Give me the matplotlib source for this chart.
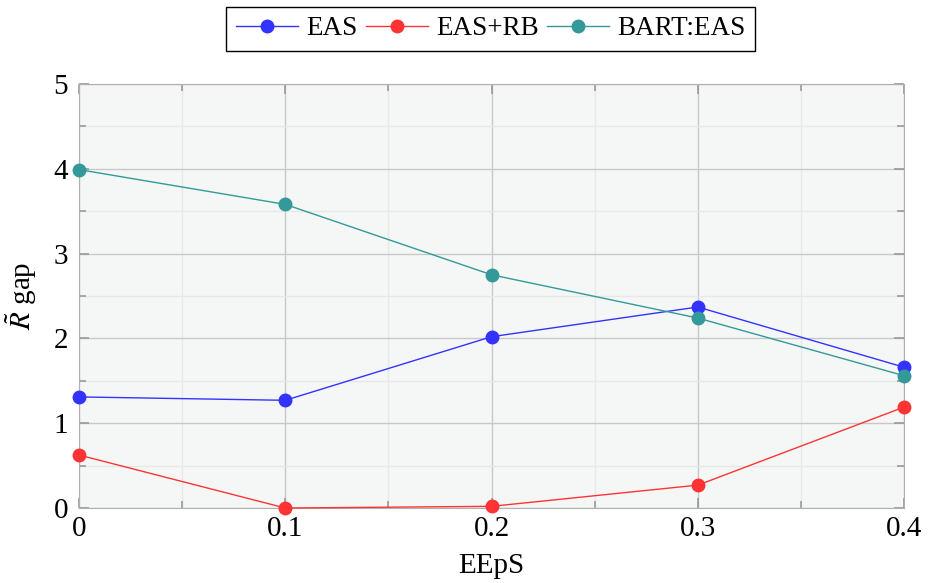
import matplotlib
matplotlib.use("Agg")
import matplotlib.pyplot as plt
from matplotlib.ticker import MultipleLocator

plt.rcParams['font.family'] = ['Liberation Serif', 'DejaVu Serif']
plt.rcParams['mathtext.fontset'] = 'stix'

eeps = [0, 0.1, 0.2, 0.3, 0.4]
eas = [1.31, 1.27, 2.02, 2.37, 1.66]
eas_rb = [0.625, 0.0, 0.02, 0.27, 1.19]
bart_eas = [3.99, 3.58, 2.75, 2.24, 1.56]

fig = plt.figure(figsize=(9.33, 5.83), dpi=100)
ax = fig.add_axes([0.0847, 0.1286, 0.8843, 0.7274])
ax.set_facecolor('#f5f7f7')

ax.plot(eeps, eas, color='#3333ff', marker='o', ms=9, lw=1, label='EAS', zorder=3, clip_on=False)
ax.plot(eeps, eas_rb, color='#ff3333', marker='o', ms=9, lw=1, label='EAS+RB', zorder=3, clip_on=False)
ax.plot(eeps, bart_eas, color='#339999', marker='o', ms=9, lw=1, label='BART:EAS', zorder=3, clip_on=False)

ax.set_xlim(0, 0.4)
ax.set_ylim(0, 5)
ax.xaxis.set_major_locator(MultipleLocator(0.1))
ax.xaxis.set_minor_locator(MultipleLocator(0.05))
ax.yaxis.set_major_locator(MultipleLocator(1))
ax.yaxis.set_minor_locator(MultipleLocator(0.5))
ax.xaxis.set_major_formatter(plt.FuncFormatter(lambda v, p: '0' if abs(v) < 1e-9 else f'{v:g}'))

ax.grid(which='major', color='#c8c8c8', lw=1)
ax.grid(which='minor', color='#e8e8e8', lw=1)
ax.set_axisbelow(True)
for s in ax.spines.values():
    s.set_color('#b0b0b0')
ax.tick_params(which='both', direction='in', top=True, right=True, color='#999999', width=1.2, labelsize=21)
ax.tick_params(which='major', length=7)
ax.tick_params(which='minor', length=5)
ax.tick_params(axis='x', pad=6)
ax.tick_params(axis='y', pad=8)

ax.set_xlabel('EEpS', fontsize=21, labelpad=8)
ax.set_ylabel(r'$\tilde{R}$ gap', fontsize=21, labelpad=10)

fig.legend(loc='upper center', bbox_to_anchor=(0.526, 0.998), ncol=3, fontsize=19.5,
           frameon=True, fancybox=False, edgecolor='black', framealpha=1,
           handlelength=2.3, columnspacing=0.3, handletextpad=0.3, borderpad=0.35,
           borderaxespad=0.2)

fig.savefig('out.png', dpi=100)
